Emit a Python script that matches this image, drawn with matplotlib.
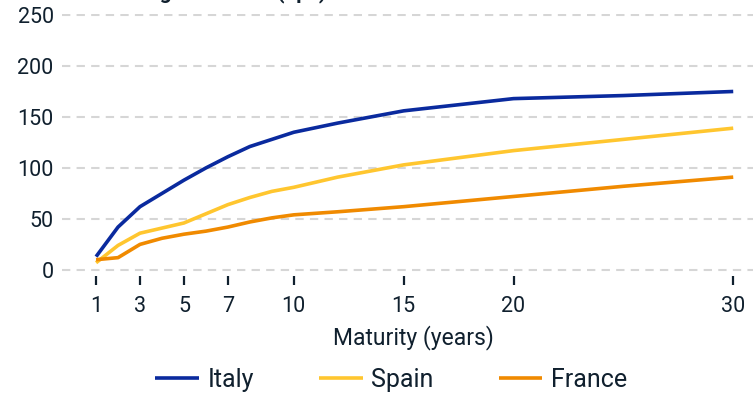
import matplotlib
matplotlib.use("Agg")
import matplotlib.pyplot as plt

maturity = [1, 2, 3, 4, 5, 6, 7, 8, 9, 10, 12, 15, 20, 25, 30]
italy  = [13, 42, 62, 75, 88, 100, 111, 121, 128, 135, 144, 156, 168, 171, 175]
spain  = [7, 24, 36, 41, 46, 55, 64, 71, 77, 81, 91, 103, 117, 128, 139]
france = [10, 12, 25, 31, 35, 38, 42, 47, 51, 54, 57, 62, 72, 82, 91]
xticks = [1, 3, 5, 7, 10, 15, 20, 30]
yticks = [0, 50, 100, 150, 200, 250]

TXT = "#10202e"
FONT = "Roboto"
plt.rcParams["font.family"] = [FONT, "DejaVu Sans"]

fig = plt.figure(figsize=(7.53, 3.93), dpi=100)
ax = fig.add_axes([62/753, 1-276/393, 1-62/753, (276-14)/393])

ax.plot(maturity, italy, color="#0a2a9e", lw=2.6, label="Italy", solid_capstyle="butt")
ax.plot(maturity, spain, color="#ffc62f", lw=2.6, label="Spain", solid_capstyle="butt")
ax.plot(maturity, france, color="#f08a00", lw=2.6, label="France", solid_capstyle="butt")

ax.set_xlim(-0.55, 30.9)
ax.set_ylim(-6, 251)
ax.set_xticks(xticks)
ax.set_yticks(yticks)
ax.grid(axis="y", color="#d6d6d6", lw=1.5, ls=(0, (4, 3)))
ax.set_axisbelow(True)
for s in ax.spines.values():
    s.set_visible(False)
ax.tick_params(axis="x", length=6.5, width=1.6, color=TXT, direction="out", pad=8,
               labelsize=15.5, labelcolor=TXT)
ax.tick_params(axis="y", length=0, pad=6, labelsize=15.5, labelcolor=TXT)
ax.set_xlabel("Maturity (years)", fontsize=16.5, color=TXT)
ax.xaxis.set_label_coords((413 - 62) / 691, -(338 - 276) / 262, transform=ax.transAxes)
ax.xaxis.label.set_va("center")

fig.legend(loc="center", bbox_to_anchor=(391/753, 1-380/393), ncol=3, frameon=False,
           fontsize=18, handlelength=1.75, handletextpad=0.35, columnspacing=2.6,
           labelcolor=TXT)

fig.text(18/753, 1 + 1.5/393, "Credit curves against Bund (bps)", fontsize=15,
         fontweight="bold", color=TXT, ha="left", va="baseline")

fig.savefig("out.png", dpi=100)
